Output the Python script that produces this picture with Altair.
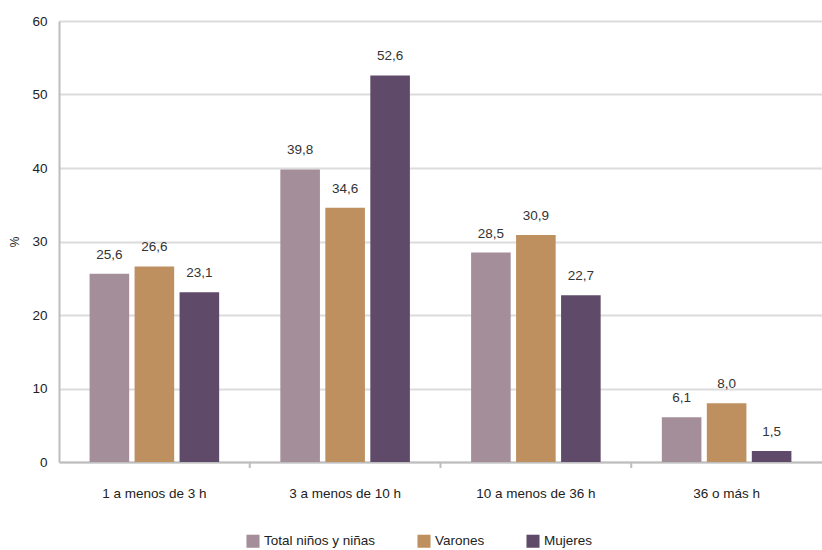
import altair as alt
import pandas as pd

categories = ["1 a menos de 3 h", "3 a menos de 10 h", "10 a menos de 36 h", "36 o más h"]
series = ["Total niños y niñas", "Varones", "Mujeres"]
total = [25.6, 39.8, 28.5, 6.1]
varones = [26.6, 34.6, 30.9, 8.0]
mujeres = [23.1, 52.6, 22.7, 1.5]
colors = ["#a48e99", "#be8f5f", "#5f4b69"]
y_ticks = [0, 10, 20, 30, 40, 50, 60]

rows = []
for i, c in enumerate(categories):
    for s, vals in zip(series, [total, varones, mujeres]):
        rows.append({"cat": c, "serie": s, "v": vals[i]})
df = pd.DataFrame(rows)
bounds = pd.DataFrame({"cat": categories[1:]})

FONT = "Liberation Sans, Arial, sans-serif"
FS = 13.5

xscale = alt.Scale(domain=categories, paddingInner=0, paddingOuter=0)
base = alt.Chart(df).encode(
    x=alt.X("cat:N", sort=categories, scale=xscale,
            axis=alt.Axis(title=None, labelAngle=0, ticks=False, labelPadding=24,
                          domainColor="#bdbdbd", domainWidth=2, labelFontSize=FS,
                          labelColor="#222", labelFont=FONT)),
    xOffset=alt.XOffset("serie:N", sort=series,
                        scale=alt.Scale(paddingInner=0.12, paddingOuter=0.68)),
)

bars = base.mark_bar().encode(
    y=alt.Y("v:Q", scale=alt.Scale(domain=[0, 60]),
            axis=alt.Axis(title="%", values=y_ticks, ticks=False, grid=True,
                          gridColor="#dcdcdc", gridWidth=2, domainColor="#bdbdbd",
                          domainWidth=2, labelPadding=12, labelFontSize=FS,
                          labelColor="#222", labelFont=FONT, titleFont=FONT,
                          titleFontSize=12, titleFontWeight="normal",
                          titleColor="#222", titlePadding=10)),
    color=alt.Color("serie:N", sort=series,
                    scale=alt.Scale(domain=series, range=colors),
                    legend=alt.Legend(title=None, orient="none", direction="horizontal",
                                      legendX=187, legendY=513, symbolType="square",
                                      symbolSize=170, symbolStrokeWidth=0,
                                      columnPadding=41, labelFontSize=FS,
                                      labelColor="#222", labelFont=FONT)),
)

labels = base.mark_text(baseline="bottom", dy=-12, fontSize=FS, color="#333",
                        font=FONT).transform_calculate(
    lab="replace(format(datum.v, '.1f'), '.', ',')"
).encode(y="v:Q", text="lab:N")

ticks = alt.Chart(bounds).mark_rule(color="#bdbdbd", strokeWidth=2).encode(
    x=alt.X("cat:N", sort=categories, scale=xscale, bandPosition=0),
    y=alt.value(441), y2=alt.value(447),
)

chart = alt.layer(bars, labels, ticks).properties(
    width=763, height=441,
    autosize=alt.AutoSizeParams(type="none"),
    padding={"left": 59, "top": 21, "right": 0, "bottom": 88},
).configure_view(stroke=None).configure_legend(labelFont=FONT)

chart.save("out.html", embed_options={"renderer": "svg", "actions": False})
